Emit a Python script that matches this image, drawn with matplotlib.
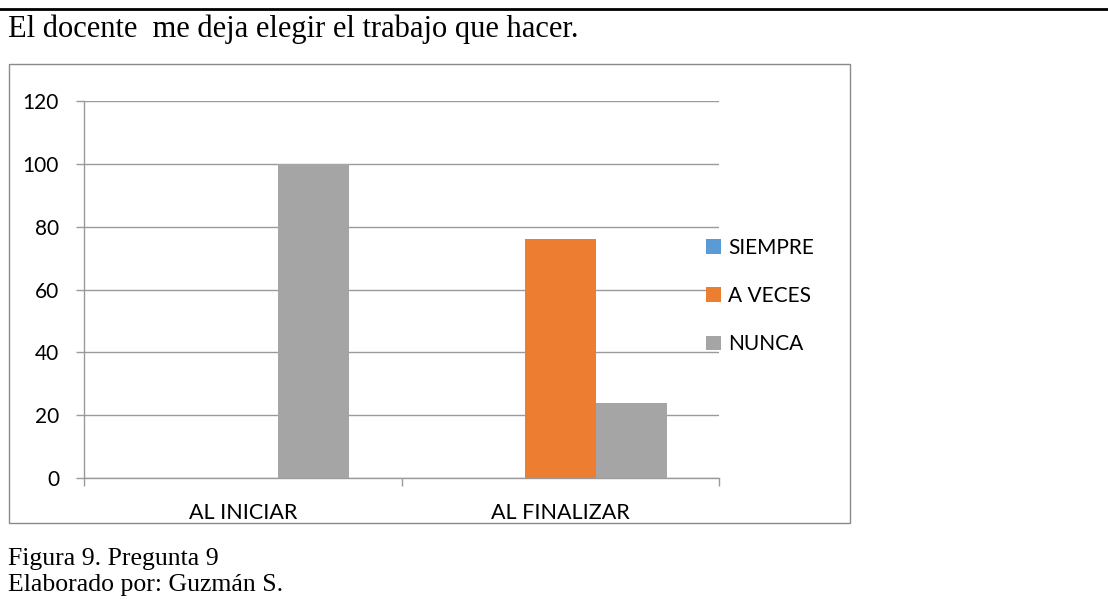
import matplotlib
matplotlib.use('agg')
import matplotlib.pyplot as plt
import numpy as np
from matplotlib.lines import Line2D
from matplotlib.patches import Rectangle

categories = ['AL INICIAR', 'AL FINALIZAR']
series_names = ['SIEMPRE', 'A VECES', 'NUNCA']
siempre = [0, 0]
a_veces = [0, 76]
nunca = [100, 24]
y_ticks = [0, 20, 40, 60, 80, 100, 120]

title_text = 'El docente  me deja elegir el trabajo que hacer.'
caption_1 = 'Figura 9. Pregunta 9'
caption_2 = 'Elaborado por: Guzmán S.'

colors = ['#5B9BD5', '#ED7D31', '#A5A5A5']
W, H = 1108, 599

fig = plt.figure(figsize=(W / 100, H / 100), dpi=100)
fig.patch.set_facecolor('white')

# outer chart frame
fig.add_artist(Rectangle((9 / W, 1 - 523 / H), (850 - 9) / W, (523 - 64) / H,
                         transform=fig.transFigure, fill=False,
                         edgecolor='#8a8a8a', lw=1.0))
# top rule
fig.add_artist(Line2D([0, 1], [1 - 9 / H, 1 - 9 / H], transform=fig.transFigure,
                      color='black', lw=2.0))

ax = fig.add_axes([84 / W, 1 - 478 / H, (719 - 84) / W, (478 - 101) / H])

x = np.arange(len(categories))
bw = 0.2236
all_series = [siempre, a_veces, nunca]
for i, vals in enumerate(all_series):
    ax.bar(x + (i - 1) * bw, vals, width=bw, color=colors[i],
           label=series_names[i], zorder=3, linewidth=0)

ax.set_xlim(-0.5, len(categories) - 0.5)
ax.set_ylim(0, 120)
ax.set_yticks(y_ticks)
ax.yaxis.grid(True, color='#9a9a9a', lw=1.0, zorder=0)

for s in ['top', 'right']:
    ax.spines[s].set_visible(False)
ax.spines['left'].set_color('#9a9a9a')
ax.spines['bottom'].set_color('#9a9a9a')
ax.spines['left'].set_linewidth(1.0)
ax.spines['bottom'].set_linewidth(1.0)

lab_font = 'Lato'
ax.tick_params(axis='y', length=6, color='#9a9a9a', width=1.0, pad=12,
               labelsize=15)
for t in ax.get_yticklabels():
    t.set_fontfamily(lab_font)

# x ticks at category boundaries, labels at centers
ax.set_xticks(np.arange(-0.5, len(categories), 1.0))
ax.set_xticklabels([])
ax.set_xticks(x, minor=True)
ax.set_xticklabels(categories, minor=True, fontfamily=lab_font, fontsize=15.5)
ax.tick_params(axis='x', which='major', length=6, color='#9a9a9a', width=1.0)
ax.tick_params(axis='x', which='minor', length=0, pad=18)

leg = ax.legend(loc='center left', bbox_to_anchor=(696 / W, 1 - 296 / H),
                bbox_transform=fig.transFigure, frameon=False, borderpad=0,
                handlelength=0.7, handleheight=0.7, handletextpad=0.34,
                labelspacing=1.35, prop={'family': lab_font, 'size': 15})

fig.text(8 / W, 1 - 37.5 / H, title_text, fontfamily='Liberation Serif',
         fontsize=22, va='baseline', ha='left')
fig.text(8 / W, 1 - 565 / H, caption_1, fontfamily='Liberation Serif',
         fontsize=18.5, va='baseline', ha='left')
fig.text(8 / W, 1 - 591.5 / H, caption_2, fontfamily='Liberation Serif',
         fontsize=18.5, va='baseline', ha='left')

plt.savefig('out.png', dpi=100, facecolor='white')
